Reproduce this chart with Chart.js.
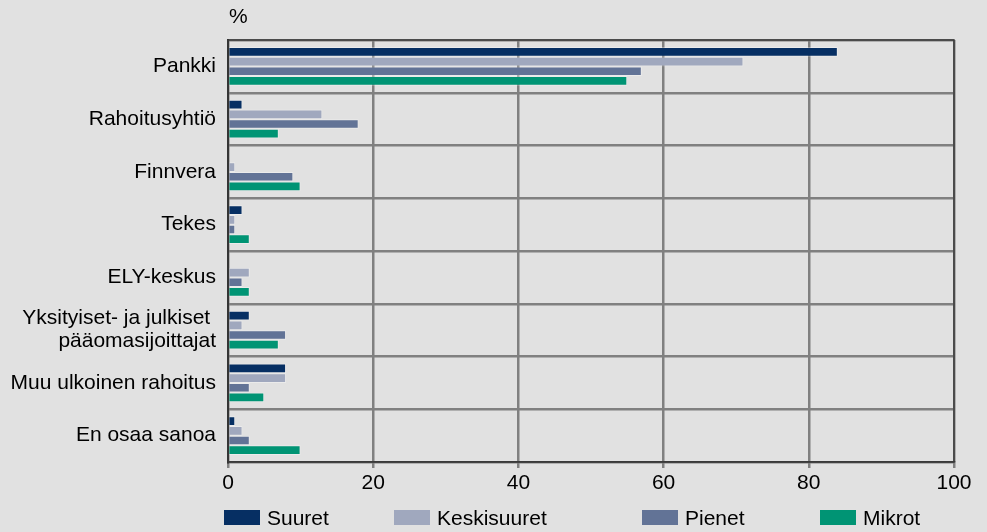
<!DOCTYPE html>
<html><head><meta charset="utf-8">
<script src="https://cdn.jsdelivr.net/npm/chart.js@4.4.1/dist/chart.umd.min.js"></script>
<style>
html,body{margin:0;padding:0;background:#e1e1e1;}
#wrap{width:987px;height:532px;position:relative;}
</style></head><body>
<div id="wrap"><canvas id="c" width="987" height="532"></canvas></div>
<script>
const categories = ["Pankki","Rahoitusyhtiö","Finnvera","Tekes","ELY-keskus",["Yksityiset- ja julkiset ","pääomasijoittajat"],"Muu ulkoinen rahoitus","En osaa sanoa"];
const seriesNames = ["Suuret","Keskisuuret","Pienet","Mikrot"];
const suuret      = [84, 2, 0, 2, 0, 3, 8, 1];
const keskisuuret = [71, 13, 1, 1, 3, 2, 8, 2];
const pienet      = [57, 18, 9, 1, 2, 8, 3, 3];
const mikrot      = [55, 7, 10, 3, 3, 7, 5, 10];
const xTicks = [0,20,40,60,80,100];
const colors = ["#062f63","#a0a8be","#627396","#009474"];
const legendX = [224, 394, 642, 820];
const FONT = "'Liberation Sans', Arial, sans-serif";

const extras = {
  id:'extras',
  afterDraw(chart){
    const {ctx, chartArea:a} = chart;
    ctx.save();
    ctx.strokeStyle = '#3a3a3a'; ctx.lineWidth = 1.5;
    ctx.strokeRect(a.left, a.top, a.right-a.left, a.bottom-a.top);
    ctx.fillStyle = '#000'; ctx.font = "21px " + FONT;
    ctx.textAlign='left'; ctx.textBaseline='alphabetic';
    ctx.fillText('%', a.left+1, a.top-17);
    // legend
    ctx.textBaseline = 'middle';
    chart.data.datasets.forEach((ds,i)=>{
      const x = legendX[i], y = 510;
      ctx.fillStyle = ds.backgroundColor;
      ctx.fillRect(x, y, 36, 15);
      ctx.fillStyle = '#000';
      ctx.fillText(ds.label, x + 43, y + 9);
    });
    ctx.restore();
  }
};

new Chart(document.getElementById('c'), {
  type:'bar',
  data:{
    labels: categories,
    datasets: [suuret,keskisuuret,pienet,mikrot].map((d,i)=>({
      label: seriesNames[i], data: d, backgroundColor: colors[i],
      borderColor: 'rgba(255,255,255,0.35)', borderWidth: 1,
      categoryPercentage: 0.73, barPercentage: 1.0
    }))
  },
  options:{
    indexAxis:'y', responsive:false, animation:false,
    layout:{padding:{left:0, right:33, top:40, bottom:36}},
    scales:{
      x:{min:0,max:100, afterBuildTicks(s){ s.ticks = xTicks.map(v=>({value:v})); },
        afterFit(s){ s.height = 34; },
        grid:{color:'#808080', lineWidth:2.5, tickLength:6, drawTicks:true},
        border:{display:true, color:'#3a3a3a', width:1.5},
        ticks:{color:'#000', font:{family:FONT, size:21}, padding:3, maxRotation:0}
      },
      y:{
        afterFit(s){ s.width = 228; },
        grid:{color:'#808080', lineWidth:2.5, offset:true, drawTicks:false},
        border:{display:true, color:'#2a2a2a', width:2},
        ticks:{color:'#000', font:{family:FONT, size:21, lineHeight:1.1}, padding:12, autoSkip:false}
      }
    },
    plugins:{
      legend:{display:false},
      tooltip:{enabled:false}
    }
  },
  plugins:[extras]
});
</script></body></html>
